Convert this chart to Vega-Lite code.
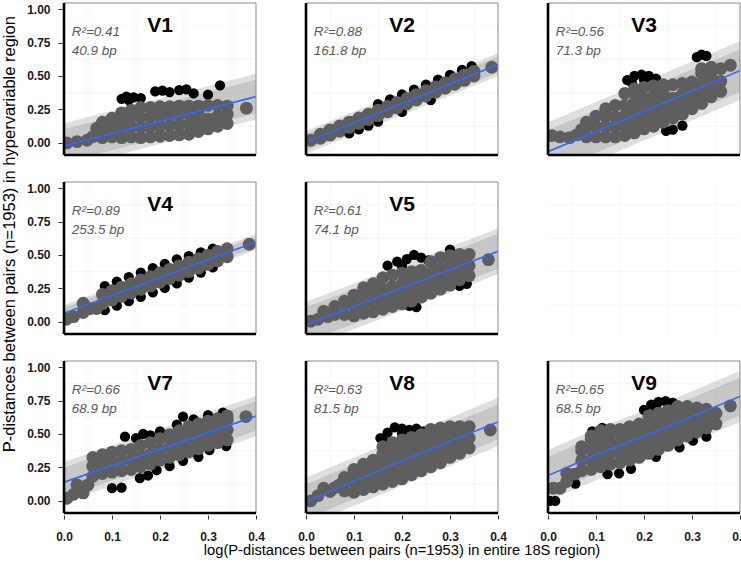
{
  "$schema": "https://vega.github.io/schema/vega-lite/v6.json",
  "background": "white",
  "padding": {"left": 2, "top": 0, "right": 0, "bottom": 0},
  "title": {
    "text": "P-distances between pairs (n=1953) in hypervariable region",
    "orient": "left",
    "anchor": "middle",
    "font": "Liberation Sans",
    "fontSize": 16.5,
    "fontWeight": "normal",
    "color": "#000",
    "offset": 8,
    "dx": 45
  },
  "data": {
    "values": [
      {"p":"V1","k":"t","r2":"R²=0.41","bp":"40.9 bp"},
      {"p":"V2","k":"t","r2":"R²=0.88","bp":"161.8 bp"},
      {"p":"V3","k":"t","r2":"R²=0.56","bp":"71.3 bp"},
      {"p":"V4","k":"t","r2":"R²=0.89","bp":"253.5 bp"},
      {"p":"V5","k":"t","r2":"R²=0.61","bp":"74.1 bp"},
      {"p":"V6","k":"n"},
      {"p":"V7","k":"t","r2":"R²=0.66","bp":"68.9 bp"},
      {"p":"V8","k":"t","r2":"R²=0.63","bp":"81.5 bp"},
      {"p":"V9","k":"t","r2":"R²=0.65","bp":"68.5 bp"},

      {"p":"V1","k":"b","w":"o","x":0,"lo":-0.192,"hi":0.148},{"p":"V1","k":"b","w":"o","x":0.4,"lo":0.176,"hi":0.516},
      {"p":"V1","k":"b","w":"i","x":0,"lo":-0.147,"hi":0.103},{"p":"V1","k":"b","w":"i","x":0.4,"lo":0.221,"hi":0.471},
      {"p":"V2","k":"b","w":"o","x":0,"lo":-0.08,"hi":0.09},{"p":"V2","k":"b","w":"o","x":0.4,"lo":0.5,"hi":0.67},
      {"p":"V2","k":"b","w":"i","x":0,"lo":-0.055,"hi":0.065},{"p":"V2","k":"b","w":"i","x":0.4,"lo":0.525,"hi":0.645},
      {"p":"V3","k":"b","w":"o","x":0,"lo":-0.285,"hi":0.155},{"p":"V3","k":"b","w":"o","x":0.4,"lo":0.32,"hi":0.76},
      {"p":"V3","k":"b","w":"i","x":0,"lo":-0.225,"hi":0.095},{"p":"V3","k":"b","w":"i","x":0.4,"lo":0.38,"hi":0.7},
      {"p":"V4","k":"b","w":"o","x":0,"lo":0.005,"hi":0.125},{"p":"V4","k":"b","w":"o","x":0.4,"lo":0.537,"hi":0.657},
      {"p":"V4","k":"b","w":"i","x":0,"lo":0.025,"hi":0.105},{"p":"V4","k":"b","w":"i","x":0.4,"lo":0.557,"hi":0.637},
      {"p":"V5","k":"b","w":"o","x":0,"lo":-0.19,"hi":0.15},{"p":"V5","k":"b","w":"o","x":0.4,"lo":0.357,"hi":0.697},
      {"p":"V5","k":"b","w":"i","x":0,"lo":-0.15,"hi":0.11},{"p":"V5","k":"b","w":"i","x":0.4,"lo":0.397,"hi":0.657},
      {"p":"V7","k":"b","w":"o","x":0,"lo":-0.01,"hi":0.29},{"p":"V7","k":"b","w":"o","x":0.4,"lo":0.484,"hi":0.784},
      {"p":"V7","k":"b","w":"i","x":0,"lo":0.03,"hi":0.25},{"p":"V7","k":"b","w":"i","x":0.4,"lo":0.524,"hi":0.744},
      {"p":"V8","k":"b","w":"o","x":0,"lo":-0.185,"hi":0.175},{"p":"V8","k":"b","w":"o","x":0.4,"lo":0.41,"hi":0.77},
      {"p":"V8","k":"b","w":"i","x":0,"lo":-0.135,"hi":0.125},{"p":"V8","k":"b","w":"i","x":0.4,"lo":0.46,"hi":0.72},
      {"p":"V9","k":"b","w":"o","x":0,"lo":0.0,"hi":0.38},{"p":"V9","k":"b","w":"o","x":0.1,"lo":0.155,"hi":0.535},
      {"p":"V9","k":"b","w":"o","x":0.2,"lo":0.295,"hi":0.675},{"p":"V9","k":"b","w":"o","x":0.3,"lo":0.44,"hi":0.82},
      {"p":"V9","k":"b","w":"o","x":0.4,"lo":0.59,"hi":0.97},
      {"p":"V9","k":"b","w":"i","x":0,"lo":0.05,"hi":0.33},{"p":"V9","k":"b","w":"i","x":0.1,"lo":0.205,"hi":0.485},
      {"p":"V9","k":"b","w":"i","x":0.2,"lo":0.345,"hi":0.625},{"p":"V9","k":"b","w":"i","x":0.3,"lo":0.49,"hi":0.77},
      {"p":"V9","k":"b","w":"i","x":0.4,"lo":0.64,"hi":0.92},

      {"p":"V1","k":"l","x":0,"y":-0.022},{"p":"V1","k":"l","x":0.4,"y":0.346},
      {"p":"V2","k":"l","x":0,"y":0.005},{"p":"V2","k":"l","x":0.4,"y":0.585},
      {"p":"V3","k":"l","x":0,"y":-0.065},{"p":"V3","k":"l","x":0.4,"y":0.54},
      {"p":"V4","k":"l","x":0,"y":0.065},{"p":"V4","k":"l","x":0.4,"y":0.597},
      {"p":"V5","k":"l","x":0,"y":-0.02},{"p":"V5","k":"l","x":0.4,"y":0.527},
      {"p":"V7","k":"l","x":0,"y":0.14},{"p":"V7","k":"l","x":0.4,"y":0.634},
      {"p":"V8","k":"l","x":0,"y":-0.005},{"p":"V8","k":"l","x":0.2,"y":0.3},{"p":"V8","k":"l","x":0.4,"y":0.59},
      {"p":"V9","k":"l","x":0,"y":0.19},{"p":"V9","k":"l","x":0.1,"y":0.345},{"p":"V9","k":"l","x":0.2,"y":0.485},
      {"p":"V9","k":"l","x":0.3,"y":0.63},{"p":"V9","k":"l","x":0.4,"y":0.78},

      {"p":"V1","k":"e","x":0.12,"y":0.33},{"p":"V1","k":"e","x":0.13,"y":0.345},{"p":"V1","k":"e","x":0.145,"y":0.34},
      {"p":"V1","k":"e","x":0.16,"y":0.335},{"p":"V1","k":"e","x":0.135,"y":0.32},{"p":"V1","k":"e","x":0.19,"y":0.385},
      {"p":"V1","k":"e","x":0.205,"y":0.39},{"p":"V1","k":"e","x":0.22,"y":0.38},{"p":"V1","k":"e","x":0.24,"y":0.395},
      {"p":"V1","k":"e","x":0.255,"y":0.4},{"p":"V1","k":"e","x":0.27,"y":0.37},{"p":"V1","k":"e","x":0.3,"y":0.36},
      {"p":"V1","k":"e","x":0.325,"y":0.43},

      {"p":"V2","k":"e","x":0.15,"y":0.289},{"p":"V2","k":"e","x":0.175,"y":0.326},{"p":"V2","k":"e","x":0.2,"y":0.362},
      {"p":"V2","k":"e","x":0.225,"y":0.399},{"p":"V2","k":"e","x":0.25,"y":0.435},{"p":"V2","k":"e","x":0.275,"y":0.472},
      {"p":"V2","k":"e","x":0.3,"y":0.508},{"p":"V2","k":"e","x":0.325,"y":0.545},{"p":"V2","k":"e","x":0.345,"y":0.574},
      {"p":"V2","k":"e","x":0.09,"y":0.071},{"p":"V2","k":"e","x":0.11,"y":0.101},{"p":"V2","k":"e","x":0.13,"y":0.13},
      {"p":"V2","k":"e","x":0.15,"y":0.159},{"p":"V2","k":"e","x":0.2,"y":0.232},{"p":"V2","k":"e","x":0.26,"y":0.32},

      {"p":"V3","k":"e","x":0.165,"y":0.47},{"p":"V3","k":"e","x":0.18,"y":0.5},{"p":"V3","k":"e","x":0.195,"y":0.51},
      {"p":"V3","k":"e","x":0.21,"y":0.5},{"p":"V3","k":"e","x":0.225,"y":0.48},{"p":"V3","k":"e","x":0.175,"y":0.45},
      {"p":"V3","k":"e","x":0.2,"y":0.47},{"p":"V3","k":"e","x":0.31,"y":0.64},{"p":"V3","k":"e","x":0.32,"y":0.66},
      {"p":"V3","k":"e","x":0.33,"y":0.65},{"p":"V3","k":"e","x":0.246,"y":0.09},{"p":"V3","k":"e","x":0.26,"y":0.1},
      {"p":"V3","k":"e","x":0.28,"y":0.13},

      {"p":"V4","k":"e","x":0.085,"y":0.268},{"p":"V4","k":"e","x":0.11,"y":0.301},{"p":"V4","k":"e","x":0.135,"y":0.335},
      {"p":"V4","k":"e","x":0.16,"y":0.368},{"p":"V4","k":"e","x":0.185,"y":0.401},{"p":"V4","k":"e","x":0.21,"y":0.434},
      {"p":"V4","k":"e","x":0.235,"y":0.468},{"p":"V4","k":"e","x":0.26,"y":0.491},{"p":"V4","k":"e","x":0.285,"y":0.519},
      {"p":"V4","k":"e","x":0.31,"y":0.547},
      {"p":"V4","k":"e","x":0.085,"y":0.088},{"p":"V4","k":"e","x":0.11,"y":0.121},{"p":"V4","k":"e","x":0.135,"y":0.155},
      {"p":"V4","k":"e","x":0.16,"y":0.188},{"p":"V4","k":"e","x":0.185,"y":0.221},{"p":"V4","k":"e","x":0.21,"y":0.254},
      {"p":"V4","k":"e","x":0.235,"y":0.288},{"p":"V4","k":"e","x":0.26,"y":0.331},{"p":"V4","k":"e","x":0.285,"y":0.369},
      {"p":"V4","k":"e","x":0.31,"y":0.407},

      {"p":"V5","k":"e","x":0.17,"y":0.42},{"p":"V5","k":"e","x":0.19,"y":0.45},{"p":"V5","k":"e","x":0.21,"y":0.47},
      {"p":"V5","k":"e","x":0.225,"y":0.5},{"p":"V5","k":"e","x":0.24,"y":0.48},{"p":"V5","k":"e","x":0.255,"y":0.46},
      {"p":"V5","k":"e","x":0.2,"y":0.42},{"p":"V5","k":"e","x":0.3,"y":0.54},{"p":"V5","k":"e","x":0.215,"y":0.12},
      {"p":"V5","k":"e","x":0.23,"y":0.11},{"p":"V5","k":"e","x":0.32,"y":0.27},{"p":"V5","k":"e","x":0.335,"y":0.285},

      {"p":"V7","k":"e","x":0.127,"y":0.48},{"p":"V7","k":"e","x":0.15,"y":0.47},{"p":"V7","k":"e","x":0.165,"y":0.5},
      {"p":"V7","k":"e","x":0.18,"y":0.49},{"p":"V7","k":"e","x":0.2,"y":0.52},{"p":"V7","k":"e","x":0.235,"y":0.57},
      {"p":"V7","k":"e","x":0.248,"y":0.63},{"p":"V7","k":"e","x":0.27,"y":0.61},{"p":"V7","k":"e","x":0.3,"y":0.64},
      {"p":"V7","k":"e","x":0.331,"y":0.66},{"p":"V7","k":"e","x":0.1,"y":0.095},{"p":"V7","k":"e","x":0.12,"y":0.1},
      {"p":"V7","k":"e","x":0.158,"y":0.17},{"p":"V7","k":"e","x":0.175,"y":0.19},{"p":"V7","k":"e","x":0.193,"y":0.23},
      {"p":"V7","k":"e","x":0.22,"y":0.26},{"p":"V7","k":"e","x":0.248,"y":0.3},{"p":"V7","k":"e","x":0.28,"y":0.33},
      {"p":"V7","k":"e","x":0.303,"y":0.38},{"p":"V7","k":"e","x":0.338,"y":0.41},

      {"p":"V8","k":"e","x":0.155,"y":0.47},{"p":"V8","k":"e","x":0.17,"y":0.51},{"p":"V8","k":"e","x":0.185,"y":0.55},
      {"p":"V8","k":"e","x":0.2,"y":0.54},{"p":"V8","k":"e","x":0.215,"y":0.53},{"p":"V8","k":"e","x":0.23,"y":0.54},
      {"p":"V8","k":"e","x":0.245,"y":0.52},{"p":"V8","k":"e","x":0.165,"y":0.44},{"p":"V8","k":"e","x":0.2,"y":0.5},

      {"p":"V9","k":"e","x":0.004,"y":0.0},{"p":"V9","k":"e","x":0.015,"y":0.0},{"p":"V9","k":"e","x":0.057,"y":0.13},
      {"p":"V9","k":"e","x":0.092,"y":0.52},{"p":"V9","k":"e","x":0.113,"y":0.545},{"p":"V9","k":"e","x":0.2,"y":0.68},
      {"p":"V9","k":"e","x":0.215,"y":0.72},{"p":"V9","k":"e","x":0.23,"y":0.74},{"p":"V9","k":"e","x":0.245,"y":0.745},
      {"p":"V9","k":"e","x":0.26,"y":0.735},{"p":"V9","k":"e","x":0.225,"y":0.7},{"p":"V9","k":"e","x":0.124,"y":0.2},
      {"p":"V9","k":"e","x":0.148,"y":0.206},{"p":"V9","k":"e","x":0.173,"y":0.24},{"p":"V9","k":"e","x":0.225,"y":0.33},
      {"p":"V9","k":"e","x":0.274,"y":0.4},{"p":"V9","k":"e","x":0.302,"y":0.45},{"p":"V9","k":"e","x":0.33,"y":0.48},

      {"p":"V1","k":"g","x":0.006,"y":0.0},{"p":"V1","k":"g","x":0.027,"y":0.01},{"p":"V1","k":"g","x":0.048,"y":0.02},
      {"p":"V1","k":"g","x":0.06,"y":0.047},{"p":"V1","k":"g","x":0.068,"y":0.11},
      {"p":"V1","k":"g","x":0.08,"y":0.04},{"p":"V1","k":"g","x":0.08,"y":0.1},{"p":"V1","k":"g","x":0.08,"y":0.155},
      {"p":"V1","k":"g","x":0.1,"y":0.045},{"p":"V1","k":"g","x":0.1,"y":0.115},{"p":"V1","k":"g","x":0.1,"y":0.185},
      {"p":"V1","k":"g","x":0.12,"y":0.04},{"p":"V1","k":"g","x":0.12,"y":0.11},{"p":"V1","k":"g","x":0.12,"y":0.18},{"p":"V1","k":"g","x":0.12,"y":0.225},
      {"p":"V1","k":"g","x":0.14,"y":0.045},{"p":"V1","k":"g","x":0.14,"y":0.12},{"p":"V1","k":"g","x":0.14,"y":0.195},{"p":"V1","k":"g","x":0.14,"y":0.245},
      {"p":"V1","k":"g","x":0.16,"y":0.04},{"p":"V1","k":"g","x":0.16,"y":0.115},{"p":"V1","k":"g","x":0.16,"y":0.19},{"p":"V1","k":"g","x":0.16,"y":0.265},
      {"p":"V1","k":"g","x":0.18,"y":0.045},{"p":"V1","k":"g","x":0.18,"y":0.12},{"p":"V1","k":"g","x":0.18,"y":0.195},{"p":"V1","k":"g","x":0.18,"y":0.265},
      {"p":"V1","k":"g","x":0.2,"y":0.05},{"p":"V1","k":"g","x":0.2,"y":0.125},{"p":"V1","k":"g","x":0.2,"y":0.2},{"p":"V1","k":"g","x":0.2,"y":0.27},
      {"p":"V1","k":"g","x":0.22,"y":0.055},{"p":"V1","k":"g","x":0.22,"y":0.13},{"p":"V1","k":"g","x":0.22,"y":0.205},{"p":"V1","k":"g","x":0.22,"y":0.27},
      {"p":"V1","k":"g","x":0.24,"y":0.06},{"p":"V1","k":"g","x":0.24,"y":0.135},{"p":"V1","k":"g","x":0.24,"y":0.21},{"p":"V1","k":"g","x":0.24,"y":0.275},
      {"p":"V1","k":"g","x":0.26,"y":0.065},{"p":"V1","k":"g","x":0.26,"y":0.14},{"p":"V1","k":"g","x":0.26,"y":0.215},{"p":"V1","k":"g","x":0.26,"y":0.275},
      {"p":"V1","k":"g","x":0.28,"y":0.085},{"p":"V1","k":"g","x":0.28,"y":0.16},{"p":"V1","k":"g","x":0.28,"y":0.235},{"p":"V1","k":"g","x":0.28,"y":0.275},
      {"p":"V1","k":"g","x":0.3,"y":0.105},{"p":"V1","k":"g","x":0.3,"y":0.18},{"p":"V1","k":"g","x":0.3,"y":0.28},
      {"p":"V1","k":"g","x":0.32,"y":0.125},{"p":"V1","k":"g","x":0.32,"y":0.2},{"p":"V1","k":"g","x":0.32,"y":0.28},
      {"p":"V1","k":"g","x":0.34,"y":0.145},{"p":"V1","k":"g","x":0.34,"y":0.215},{"p":"V1","k":"g","x":0.34,"y":0.275},
      {"p":"V1","k":"g","x":0.38,"y":0.26},

      {"p":"V2","k":"g","x":0.01,"y":0.02},{"p":"V2","k":"g","x":0.03,"y":0.035},{"p":"V2","k":"g","x":0.03,"y":0.065},
      {"p":"V2","k":"g","x":0.05,"y":0.058},{"p":"V2","k":"g","x":0.05,"y":0.098},{"p":"V2","k":"g","x":0.07,"y":0.087},{"p":"V2","k":"g","x":0.07,"y":0.127},
      {"p":"V2","k":"g","x":0.09,"y":0.116},{"p":"V2","k":"g","x":0.09,"y":0.156},{"p":"V2","k":"g","x":0.11,"y":0.146},{"p":"V2","k":"g","x":0.11,"y":0.186},
      {"p":"V2","k":"g","x":0.13,"y":0.175},{"p":"V2","k":"g","x":0.13,"y":0.215},{"p":"V2","k":"g","x":0.15,"y":0.204},{"p":"V2","k":"g","x":0.15,"y":0.244},
      {"p":"V2","k":"g","x":0.17,"y":0.233},{"p":"V2","k":"g","x":0.17,"y":0.273},{"p":"V2","k":"g","x":0.19,"y":0.262},{"p":"V2","k":"g","x":0.19,"y":0.302},
      {"p":"V2","k":"g","x":0.21,"y":0.292},{"p":"V2","k":"g","x":0.21,"y":0.332},{"p":"V2","k":"g","x":0.23,"y":0.321},{"p":"V2","k":"g","x":0.23,"y":0.361},
      {"p":"V2","k":"g","x":0.25,"y":0.35},{"p":"V2","k":"g","x":0.25,"y":0.39},{"p":"V2","k":"g","x":0.27,"y":0.379},{"p":"V2","k":"g","x":0.27,"y":0.419},
      {"p":"V2","k":"g","x":0.29,"y":0.408},{"p":"V2","k":"g","x":0.29,"y":0.448},{"p":"V2","k":"g","x":0.31,"y":0.438},{"p":"V2","k":"g","x":0.31,"y":0.478},
      {"p":"V2","k":"g","x":0.33,"y":0.467},{"p":"V2","k":"g","x":0.33,"y":0.507},{"p":"V2","k":"g","x":0.35,"y":0.5},{"p":"V2","k":"g","x":0.35,"y":0.535},
      {"p":"V2","k":"g","x":0.387,"y":0.565},

      {"p":"V3","k":"g","x":0.008,"y":0.055},{"p":"V3","k":"g","x":0.025,"y":0.045},{"p":"V3","k":"g","x":0.045,"y":0.04},
      {"p":"V3","k":"g","x":0.06,"y":0.06},{"p":"V3","k":"g","x":0.07,"y":0.1},
      {"p":"V3","k":"g","x":0.08,"y":0.045},{"p":"V3","k":"g","x":0.08,"y":0.12},{"p":"V3","k":"g","x":0.08,"y":0.155},
      {"p":"V3","k":"g","x":0.1,"y":0.045},{"p":"V3","k":"g","x":0.1,"y":0.12},{"p":"V3","k":"g","x":0.1,"y":0.2},
      {"p":"V3","k":"g","x":0.12,"y":0.045},{"p":"V3","k":"g","x":0.12,"y":0.12},{"p":"V3","k":"g","x":0.12,"y":0.195},{"p":"V3","k":"g","x":0.12,"y":0.255},
      {"p":"V3","k":"g","x":0.14,"y":0.045},{"p":"V3","k":"g","x":0.14,"y":0.12},{"p":"V3","k":"g","x":0.14,"y":0.195},{"p":"V3","k":"g","x":0.14,"y":0.28},
      {"p":"V3","k":"g","x":0.16,"y":0.055},{"p":"V3","k":"g","x":0.16,"y":0.13},{"p":"V3","k":"g","x":0.16,"y":0.205},{"p":"V3","k":"g","x":0.16,"y":0.28},{"p":"V3","k":"g","x":0.16,"y":0.37},
      {"p":"V3","k":"g","x":0.18,"y":0.075},{"p":"V3","k":"g","x":0.18,"y":0.15},{"p":"V3","k":"g","x":0.18,"y":0.225},{"p":"V3","k":"g","x":0.18,"y":0.3},{"p":"V3","k":"g","x":0.18,"y":0.375},{"p":"V3","k":"g","x":0.18,"y":0.405},
      {"p":"V3","k":"g","x":0.2,"y":0.105},{"p":"V3","k":"g","x":0.2,"y":0.18},{"p":"V3","k":"g","x":0.2,"y":0.255},{"p":"V3","k":"g","x":0.2,"y":0.33},{"p":"V3","k":"g","x":0.2,"y":0.415},
      {"p":"V3","k":"g","x":0.22,"y":0.125},{"p":"V3","k":"g","x":0.22,"y":0.2},{"p":"V3","k":"g","x":0.22,"y":0.275},{"p":"V3","k":"g","x":0.22,"y":0.35},{"p":"V3","k":"g","x":0.22,"y":0.425},
      {"p":"V3","k":"g","x":0.24,"y":0.155},{"p":"V3","k":"g","x":0.24,"y":0.23},{"p":"V3","k":"g","x":0.24,"y":0.305},{"p":"V3","k":"g","x":0.24,"y":0.38},{"p":"V3","k":"g","x":0.24,"y":0.435},
      {"p":"V3","k":"g","x":0.26,"y":0.185},{"p":"V3","k":"g","x":0.26,"y":0.26},{"p":"V3","k":"g","x":0.26,"y":0.335},{"p":"V3","k":"g","x":0.26,"y":0.435},
      {"p":"V3","k":"g","x":0.28,"y":0.215},{"p":"V3","k":"g","x":0.28,"y":0.29},{"p":"V3","k":"g","x":0.28,"y":0.365},{"p":"V3","k":"g","x":0.28,"y":0.445},
      {"p":"V3","k":"g","x":0.3,"y":0.255},{"p":"V3","k":"g","x":0.3,"y":0.33},{"p":"V3","k":"g","x":0.3,"y":0.405},{"p":"V3","k":"g","x":0.3,"y":0.455},
      {"p":"V3","k":"g","x":0.32,"y":0.295},{"p":"V3","k":"g","x":0.32,"y":0.37},{"p":"V3","k":"g","x":0.32,"y":0.445},{"p":"V3","k":"g","x":0.32,"y":0.52},{"p":"V3","k":"g","x":0.32,"y":0.555},
      {"p":"V3","k":"g","x":0.34,"y":0.345},{"p":"V3","k":"g","x":0.34,"y":0.42},{"p":"V3","k":"g","x":0.34,"y":0.495},{"p":"V3","k":"g","x":0.34,"y":0.565},
      {"p":"V3","k":"g","x":0.36,"y":0.385},{"p":"V3","k":"g","x":0.36,"y":0.46},{"p":"V3","k":"g","x":0.36,"y":0.555},
      {"p":"V3","k":"g","x":0.38,"y":0.58},

      {"p":"V4","k":"g","x":0.005,"y":0.02},{"p":"V4","k":"g","x":0.02,"y":0.04},{"p":"V4","k":"g","x":0.04,"y":0.07},
      {"p":"V4","k":"g","x":0.04,"y":0.14},{"p":"V4","k":"g","x":0.055,"y":0.1},{"p":"V4","k":"g","x":0.068,"y":0.1},
      {"p":"V4","k":"g","x":0.08,"y":0.136},{"p":"V4","k":"g","x":0.08,"y":0.206},{"p":"V4","k":"g","x":0.1,"y":0.163},{"p":"V4","k":"g","x":0.1,"y":0.233},
      {"p":"V4","k":"g","x":0.12,"y":0.19},{"p":"V4","k":"g","x":0.12,"y":0.26},{"p":"V4","k":"g","x":0.14,"y":0.216},{"p":"V4","k":"g","x":0.14,"y":0.286},
      {"p":"V4","k":"g","x":0.16,"y":0.243},{"p":"V4","k":"g","x":0.16,"y":0.313},{"p":"V4","k":"g","x":0.18,"y":0.269},{"p":"V4","k":"g","x":0.18,"y":0.339},
      {"p":"V4","k":"g","x":0.2,"y":0.296},{"p":"V4","k":"g","x":0.2,"y":0.366},{"p":"V4","k":"g","x":0.22,"y":0.323},{"p":"V4","k":"g","x":0.22,"y":0.393},
      {"p":"V4","k":"g","x":0.24,"y":0.349},{"p":"V4","k":"g","x":0.24,"y":0.419},{"p":"V4","k":"g","x":0.26,"y":0.376},{"p":"V4","k":"g","x":0.26,"y":0.446},
      {"p":"V4","k":"g","x":0.28,"y":0.402},{"p":"V4","k":"g","x":0.28,"y":0.472},{"p":"V4","k":"g","x":0.3,"y":0.429},{"p":"V4","k":"g","x":0.3,"y":0.499},
      {"p":"V4","k":"g","x":0.32,"y":0.456},{"p":"V4","k":"g","x":0.32,"y":0.526},{"p":"V4","k":"g","x":0.34,"y":0.487},{"p":"V4","k":"g","x":0.34,"y":0.547},
      {"p":"V4","k":"g","x":0.386,"y":0.58},

      {"p":"V5","k":"g","x":0.01,"y":0.005},{"p":"V5","k":"g","x":0.025,"y":0.02},{"p":"V5","k":"g","x":0.037,"y":0.08},{"p":"V5","k":"g","x":0.045,"y":0.04},
      {"p":"V5","k":"g","x":0.06,"y":0.055},{"p":"V5","k":"g","x":0.06,"y":0.115},
      {"p":"V5","k":"g","x":0.08,"y":0.055},{"p":"V5","k":"g","x":0.08,"y":0.13},{"p":"V5","k":"g","x":0.08,"y":0.155},
      {"p":"V5","k":"g","x":0.1,"y":0.045},{"p":"V5","k":"g","x":0.1,"y":0.12},{"p":"V5","k":"g","x":0.1,"y":0.2},
      {"p":"V5","k":"g","x":0.12,"y":0.065},{"p":"V5","k":"g","x":0.12,"y":0.14},{"p":"V5","k":"g","x":0.12,"y":0.215},{"p":"V5","k":"g","x":0.12,"y":0.255},
      {"p":"V5","k":"g","x":0.14,"y":0.075},{"p":"V5","k":"g","x":0.14,"y":0.15},{"p":"V5","k":"g","x":0.14,"y":0.225},{"p":"V5","k":"g","x":0.14,"y":0.285},
      {"p":"V5","k":"g","x":0.16,"y":0.095},{"p":"V5","k":"g","x":0.16,"y":0.17},{"p":"V5","k":"g","x":0.16,"y":0.245},{"p":"V5","k":"g","x":0.16,"y":0.33},
      {"p":"V5","k":"g","x":0.18,"y":0.115},{"p":"V5","k":"g","x":0.18,"y":0.19},{"p":"V5","k":"g","x":0.18,"y":0.265},{"p":"V5","k":"g","x":0.18,"y":0.35},
      {"p":"V5","k":"g","x":0.2,"y":0.135},{"p":"V5","k":"g","x":0.2,"y":0.21},{"p":"V5","k":"g","x":0.2,"y":0.285},{"p":"V5","k":"g","x":0.2,"y":0.365},
      {"p":"V5","k":"g","x":0.22,"y":0.155},{"p":"V5","k":"g","x":0.22,"y":0.23},{"p":"V5","k":"g","x":0.22,"y":0.305},{"p":"V5","k":"g","x":0.22,"y":0.375},
      {"p":"V5","k":"g","x":0.24,"y":0.185},{"p":"V5","k":"g","x":0.24,"y":0.26},{"p":"V5","k":"g","x":0.24,"y":0.335},{"p":"V5","k":"g","x":0.24,"y":0.385},
      {"p":"V5","k":"g","x":0.26,"y":0.215},{"p":"V5","k":"g","x":0.26,"y":0.29},{"p":"V5","k":"g","x":0.26,"y":0.365},{"p":"V5","k":"g","x":0.26,"y":0.45},
      {"p":"V5","k":"g","x":0.28,"y":0.245},{"p":"V5","k":"g","x":0.28,"y":0.32},{"p":"V5","k":"g","x":0.28,"y":0.395},{"p":"V5","k":"g","x":0.28,"y":0.48},
      {"p":"V5","k":"g","x":0.3,"y":0.275},{"p":"V5","k":"g","x":0.3,"y":0.35},{"p":"V5","k":"g","x":0.3,"y":0.425},{"p":"V5","k":"g","x":0.3,"y":0.495},
      {"p":"V5","k":"g","x":0.32,"y":0.315},{"p":"V5","k":"g","x":0.32,"y":0.39},{"p":"V5","k":"g","x":0.32,"y":0.465},{"p":"V5","k":"g","x":0.32,"y":0.505},
      {"p":"V5","k":"g","x":0.34,"y":0.345},{"p":"V5","k":"g","x":0.34,"y":0.42},{"p":"V5","k":"g","x":0.34,"y":0.505},
      {"p":"V5","k":"g","x":0.38,"y":0.465},

      {"p":"V7","k":"g","x":0.006,"y":0.02},{"p":"V7","k":"g","x":0.02,"y":0.05},{"p":"V7","k":"g","x":0.027,"y":0.12},
      {"p":"V7","k":"g","x":0.04,"y":0.06},{"p":"V7","k":"g","x":0.05,"y":0.12},
      {"p":"V7","k":"g","x":0.06,"y":0.185},{"p":"V7","k":"g","x":0.06,"y":0.26},{"p":"V7","k":"g","x":0.06,"y":0.325},
      {"p":"V7","k":"g","x":0.08,"y":0.205},{"p":"V7","k":"g","x":0.08,"y":0.28},{"p":"V7","k":"g","x":0.08,"y":0.345},
      {"p":"V7","k":"g","x":0.1,"y":0.215},{"p":"V7","k":"g","x":0.1,"y":0.29},{"p":"V7","k":"g","x":0.1,"y":0.365},
      {"p":"V7","k":"g","x":0.12,"y":0.225},{"p":"V7","k":"g","x":0.12,"y":0.3},{"p":"V7","k":"g","x":0.12,"y":0.375},
      {"p":"V7","k":"g","x":0.14,"y":0.235},{"p":"V7","k":"g","x":0.14,"y":0.31},{"p":"V7","k":"g","x":0.14,"y":0.385},
      {"p":"V7","k":"g","x":0.16,"y":0.255},{"p":"V7","k":"g","x":0.16,"y":0.33},{"p":"V7","k":"g","x":0.16,"y":0.415},
      {"p":"V7","k":"g","x":0.18,"y":0.275},{"p":"V7","k":"g","x":0.18,"y":0.35},{"p":"V7","k":"g","x":0.18,"y":0.435},
      {"p":"V7","k":"g","x":0.2,"y":0.305},{"p":"V7","k":"g","x":0.2,"y":0.38},{"p":"V7","k":"g","x":0.2,"y":0.465},
      {"p":"V7","k":"g","x":0.22,"y":0.325},{"p":"V7","k":"g","x":0.22,"y":0.4},{"p":"V7","k":"g","x":0.22,"y":0.475},{"p":"V7","k":"g","x":0.22,"y":0.495},
      {"p":"V7","k":"g","x":0.24,"y":0.345},{"p":"V7","k":"g","x":0.24,"y":0.42},{"p":"V7","k":"g","x":0.24,"y":0.495},{"p":"V7","k":"g","x":0.24,"y":0.525},
      {"p":"V7","k":"g","x":0.26,"y":0.365},{"p":"V7","k":"g","x":0.26,"y":0.44},{"p":"V7","k":"g","x":0.26,"y":0.515},{"p":"V7","k":"g","x":0.26,"y":0.555},
      {"p":"V7","k":"g","x":0.28,"y":0.39},{"p":"V7","k":"g","x":0.28,"y":0.465},{"p":"V7","k":"g","x":0.28,"y":0.54},{"p":"V7","k":"g","x":0.28,"y":0.575},
      {"p":"V7","k":"g","x":0.3,"y":0.415},{"p":"V7","k":"g","x":0.3,"y":0.49},{"p":"V7","k":"g","x":0.3,"y":0.565},{"p":"V7","k":"g","x":0.3,"y":0.595},
      {"p":"V7","k":"g","x":0.32,"y":0.435},{"p":"V7","k":"g","x":0.32,"y":0.51},{"p":"V7","k":"g","x":0.32,"y":0.585},{"p":"V7","k":"g","x":0.32,"y":0.615},
      {"p":"V7","k":"g","x":0.34,"y":0.455},{"p":"V7","k":"g","x":0.34,"y":0.53},{"p":"V7","k":"g","x":0.34,"y":0.605},{"p":"V7","k":"g","x":0.34,"y":0.635},
      {"p":"V7","k":"g","x":0.379,"y":0.63},

      {"p":"V8","k":"g","x":0.01,"y":0.0},{"p":"V8","k":"g","x":0.025,"y":0.04},{"p":"V8","k":"g","x":0.037,"y":0.095},
      {"p":"V8","k":"g","x":0.05,"y":0.07},{"p":"V8","k":"g","x":0.06,"y":0.1},{"p":"V8","k":"g","x":0.07,"y":0.12},
      {"p":"V8","k":"g","x":0.08,"y":0.075},{"p":"V8","k":"g","x":0.08,"y":0.15},{"p":"V8","k":"g","x":0.08,"y":0.175},
      {"p":"V8","k":"g","x":0.1,"y":0.065},{"p":"V8","k":"g","x":0.1,"y":0.14},{"p":"V8","k":"g","x":0.1,"y":0.215},{"p":"V8","k":"g","x":0.1,"y":0.235},
      {"p":"V8","k":"g","x":0.12,"y":0.085},{"p":"V8","k":"g","x":0.12,"y":0.16},{"p":"V8","k":"g","x":0.12,"y":0.235},{"p":"V8","k":"g","x":0.12,"y":0.275},
      {"p":"V8","k":"g","x":0.14,"y":0.105},{"p":"V8","k":"g","x":0.14,"y":0.18},{"p":"V8","k":"g","x":0.14,"y":0.255},{"p":"V8","k":"g","x":0.14,"y":0.305},
      {"p":"V8","k":"g","x":0.16,"y":0.125},{"p":"V8","k":"g","x":0.16,"y":0.2},{"p":"V8","k":"g","x":0.16,"y":0.275},{"p":"V8","k":"g","x":0.16,"y":0.35},{"p":"V8","k":"g","x":0.16,"y":0.405},
      {"p":"V8","k":"g","x":0.18,"y":0.145},{"p":"V8","k":"g","x":0.18,"y":0.22},{"p":"V8","k":"g","x":0.18,"y":0.295},{"p":"V8","k":"g","x":0.18,"y":0.37},{"p":"V8","k":"g","x":0.18,"y":0.435},
      {"p":"V8","k":"g","x":0.2,"y":0.165},{"p":"V8","k":"g","x":0.2,"y":0.24},{"p":"V8","k":"g","x":0.2,"y":0.315},{"p":"V8","k":"g","x":0.2,"y":0.39},{"p":"V8","k":"g","x":0.2,"y":0.455},
      {"p":"V8","k":"g","x":0.22,"y":0.195},{"p":"V8","k":"g","x":0.22,"y":0.27},{"p":"V8","k":"g","x":0.22,"y":0.345},{"p":"V8","k":"g","x":0.22,"y":0.42},{"p":"V8","k":"g","x":0.22,"y":0.475},
      {"p":"V8","k":"g","x":0.24,"y":0.225},{"p":"V8","k":"g","x":0.24,"y":0.3},{"p":"V8","k":"g","x":0.24,"y":0.375},{"p":"V8","k":"g","x":0.24,"y":0.45},{"p":"V8","k":"g","x":0.24,"y":0.495},
      {"p":"V8","k":"g","x":0.26,"y":0.255},{"p":"V8","k":"g","x":0.26,"y":0.33},{"p":"V8","k":"g","x":0.26,"y":0.405},{"p":"V8","k":"g","x":0.26,"y":0.48},{"p":"V8","k":"g","x":0.26,"y":0.535},
      {"p":"V8","k":"g","x":0.28,"y":0.285},{"p":"V8","k":"g","x":0.28,"y":0.36},{"p":"V8","k":"g","x":0.28,"y":0.435},{"p":"V8","k":"g","x":0.28,"y":0.51},{"p":"V8","k":"g","x":0.28,"y":0.545},
      {"p":"V8","k":"g","x":0.3,"y":0.325},{"p":"V8","k":"g","x":0.3,"y":0.4},{"p":"V8","k":"g","x":0.3,"y":0.475},{"p":"V8","k":"g","x":0.3,"y":0.555},
      {"p":"V8","k":"g","x":0.32,"y":0.355},{"p":"V8","k":"g","x":0.32,"y":0.43},{"p":"V8","k":"g","x":0.32,"y":0.505},{"p":"V8","k":"g","x":0.32,"y":0.555},
      {"p":"V8","k":"g","x":0.34,"y":0.395},{"p":"V8","k":"g","x":0.34,"y":0.47},{"p":"V8","k":"g","x":0.34,"y":0.555},
      {"p":"V8","k":"g","x":0.384,"y":0.53},

      {"p":"V9","k":"g","x":0.011,"y":0.095},{"p":"V9","k":"g","x":0.025,"y":0.095},{"p":"V9","k":"g","x":0.039,"y":0.206},
      {"p":"V9","k":"g","x":0.039,"y":0.145},{"p":"V9","k":"g","x":0.055,"y":0.2},
      {"p":"V9","k":"g","x":0.07,"y":0.225},{"p":"V9","k":"g","x":0.07,"y":0.3},{"p":"V9","k":"g","x":0.07,"y":0.375},{"p":"V9","k":"g","x":0.07,"y":0.405},
      {"p":"V9","k":"g","x":0.09,"y":0.235},{"p":"V9","k":"g","x":0.09,"y":0.31},{"p":"V9","k":"g","x":0.09,"y":0.385},{"p":"V9","k":"g","x":0.09,"y":0.46},{"p":"V9","k":"g","x":0.09,"y":0.485},
      {"p":"V9","k":"g","x":0.11,"y":0.255},{"p":"V9","k":"g","x":0.11,"y":0.33},{"p":"V9","k":"g","x":0.11,"y":0.405},{"p":"V9","k":"g","x":0.11,"y":0.48},{"p":"V9","k":"g","x":0.11,"y":0.525},
      {"p":"V9","k":"g","x":0.13,"y":0.275},{"p":"V9","k":"g","x":0.13,"y":0.35},{"p":"V9","k":"g","x":0.13,"y":0.425},{"p":"V9","k":"g","x":0.13,"y":0.5},{"p":"V9","k":"g","x":0.13,"y":0.535},
      {"p":"V9","k":"g","x":0.15,"y":0.285},{"p":"V9","k":"g","x":0.15,"y":0.36},{"p":"V9","k":"g","x":0.15,"y":0.435},{"p":"V9","k":"g","x":0.15,"y":0.51},{"p":"V9","k":"g","x":0.15,"y":0.535},
      {"p":"V9","k":"g","x":0.17,"y":0.305},{"p":"V9","k":"g","x":0.17,"y":0.38},{"p":"V9","k":"g","x":0.17,"y":0.455},{"p":"V9","k":"g","x":0.17,"y":0.53},{"p":"V9","k":"g","x":0.17,"y":0.555},
      {"p":"V9","k":"g","x":0.19,"y":0.325},{"p":"V9","k":"g","x":0.19,"y":0.4},{"p":"V9","k":"g","x":0.19,"y":0.475},{"p":"V9","k":"g","x":0.19,"y":0.55},{"p":"V9","k":"g","x":0.19,"y":0.575},
      {"p":"V9","k":"g","x":0.21,"y":0.355},{"p":"V9","k":"g","x":0.21,"y":0.43},{"p":"V9","k":"g","x":0.21,"y":0.505},{"p":"V9","k":"g","x":0.21,"y":0.58},{"p":"V9","k":"g","x":0.21,"y":0.635},
      {"p":"V9","k":"g","x":0.23,"y":0.385},{"p":"V9","k":"g","x":0.23,"y":0.46},{"p":"V9","k":"g","x":0.23,"y":0.535},{"p":"V9","k":"g","x":0.23,"y":0.61},{"p":"V9","k":"g","x":0.23,"y":0.655},
      {"p":"V9","k":"g","x":0.25,"y":0.415},{"p":"V9","k":"g","x":0.25,"y":0.49},{"p":"V9","k":"g","x":0.25,"y":0.565},{"p":"V9","k":"g","x":0.25,"y":0.64},{"p":"V9","k":"g","x":0.25,"y":0.675},
      {"p":"V9","k":"g","x":0.27,"y":0.455},{"p":"V9","k":"g","x":0.27,"y":0.53},{"p":"V9","k":"g","x":0.27,"y":0.605},{"p":"V9","k":"g","x":0.27,"y":0.68},{"p":"V9","k":"g","x":0.27,"y":0.705},
      {"p":"V9","k":"g","x":0.29,"y":0.485},{"p":"V9","k":"g","x":0.29,"y":0.56},{"p":"V9","k":"g","x":0.29,"y":0.635},{"p":"V9","k":"g","x":0.29,"y":0.705},
      {"p":"V9","k":"g","x":0.31,"y":0.515},{"p":"V9","k":"g","x":0.31,"y":0.59},{"p":"V9","k":"g","x":0.31,"y":0.665},{"p":"V9","k":"g","x":0.31,"y":0.695},
      {"p":"V9","k":"g","x":0.33,"y":0.545},{"p":"V9","k":"g","x":0.33,"y":0.62},{"p":"V9","k":"g","x":0.33,"y":0.685},
      {"p":"V9","k":"g","x":0.35,"y":0.575},{"p":"V9","k":"g","x":0.35,"y":0.655},
      {"p":"V9","k":"g","x":0.38,"y":0.71}
    ]
  },
  "facet": {
    "field": "p",
    "type": "nominal",
    "header": {
      "labels": false,
      "labelFontSize": 1,
      "labelPadding": 0,
      "labelColor": "white",
      "title": "log(P-distances between pairs (n=1953) in entire 18S region)",
      "titleOrient": "bottom",
      "titleFont": "Liberation Sans",
      "titleFontSize": 14.7,
      "titleFontWeight": "normal",
      "titleColor": "#000",
      "titlePadding": 1
    }
  },
  "columns": 3,
  "spacing": {"row": 22, "column": 46},
  "spec": {
    "width": 192,
    "height": 152,
    "layer": [
      {"transform": [{"filter": "datum.k == 't' || datum.k == 'n'"}], "mark": {"type": "rule", "color": "#f1f1f1", "strokeWidth": 0.7},
        "encoding": {"x": {"datum": 0.05, "type": "quantitative", "scale": {"domain": [0, 0.4], "nice": false, "zero": false}, "axis": {"values": [0, 0.1, 0.2, 0.3, 0.4], "format": ".1f", "labelOverlap": false, "labelFlush": false, "labelPadding": 12}}}},
      {"transform": [{"filter": "datum.k == 't' || datum.k == 'n'"}], "mark": {"type": "rule", "color": "#f1f1f1", "strokeWidth": 0.7},
        "encoding": {"x": {"datum": 0.15, "type": "quantitative", "scale": {"domain": [0, 0.4], "nice": false, "zero": false}, "axis": {"values": [0, 0.1, 0.2, 0.3, 0.4], "format": ".1f", "labelOverlap": false, "labelFlush": false, "labelPadding": 12}}}},
      {"transform": [{"filter": "datum.k == 't' || datum.k == 'n'"}], "mark": {"type": "rule", "color": "#f1f1f1", "strokeWidth": 0.7},
        "encoding": {"x": {"datum": 0.25, "type": "quantitative", "scale": {"domain": [0, 0.4], "nice": false, "zero": false}, "axis": {"values": [0, 0.1, 0.2, 0.3, 0.4], "format": ".1f", "labelOverlap": false, "labelFlush": false, "labelPadding": 12}}}},
      {"transform": [{"filter": "datum.k == 't' || datum.k == 'n'"}], "mark": {"type": "rule", "color": "#f1f1f1", "strokeWidth": 0.7},
        "encoding": {"x": {"datum": 0.35, "type": "quantitative", "scale": {"domain": [0, 0.4], "nice": false, "zero": false}, "axis": {"values": [0, 0.1, 0.2, 0.3, 0.4], "format": ".1f", "labelOverlap": false, "labelFlush": false, "labelPadding": 12}}}},
      {"transform": [{"filter": "datum.k == 't' || datum.k == 'n'"}], "mark": {"type": "rule", "color": "#f1f1f1", "strokeWidth": 0.7},
        "encoding": {"y": {"datum": 0.125, "type": "quantitative", "scale": {"domain": [-0.09, 1.045], "nice": false, "zero": false}, "axis": {"values": [0, 0.25, 0.5, 0.75, 1], "format": ".2f", "labelOverlap": false, "labelFlush": false, "labelPadding": 8}}}},
      {"transform": [{"filter": "datum.k == 't' || datum.k == 'n'"}], "mark": {"type": "rule", "color": "#f1f1f1", "strokeWidth": 0.7},
        "encoding": {"y": {"datum": 0.375, "type": "quantitative", "scale": {"domain": [-0.09, 1.045], "nice": false, "zero": false}, "axis": {"values": [0, 0.25, 0.5, 0.75, 1], "format": ".2f", "labelOverlap": false, "labelFlush": false, "labelPadding": 8}}}},
      {"transform": [{"filter": "datum.k == 't' || datum.k == 'n'"}], "mark": {"type": "rule", "color": "#f1f1f1", "strokeWidth": 0.7},
        "encoding": {"y": {"datum": 0.625, "type": "quantitative", "scale": {"domain": [-0.09, 1.045], "nice": false, "zero": false}, "axis": {"values": [0, 0.25, 0.5, 0.75, 1], "format": ".2f", "labelOverlap": false, "labelFlush": false, "labelPadding": 8}}}},
      {"transform": [{"filter": "datum.k == 't' || datum.k == 'n'"}], "mark": {"type": "rule", "color": "#f1f1f1", "strokeWidth": 0.7},
        "encoding": {"y": {"datum": 0.875, "type": "quantitative", "scale": {"domain": [-0.09, 1.045], "nice": false, "zero": false}, "axis": {"values": [0, 0.25, 0.5, 0.75, 1], "format": ".2f", "labelOverlap": false, "labelFlush": false, "labelPadding": 8}}}},
      {
        "transform": [{"filter": "datum.k == 'b'"}],
        "mark": {"type": "area", "clip": true, "color": "#7f7f7f", "opacity": 0.25},
        "encoding": {
          "x": {"field": "x", "type": "quantitative", "title": null,
            "scale": {"domain": [0, 0.4], "nice": false, "zero": false},
            "axis": {"values": [0, 0.1, 0.2, 0.3, 0.4], "format": ".1f", "labelOverlap": false, "labelFlush": false, "labelPadding": 12}},
          "y": {"field": "lo", "type": "quantitative", "title": null,
            "scale": {"domain": [-0.09, 1.045], "nice": false, "zero": false},
            "axis": {"values": [0, 0.25, 0.5, 0.75, 1], "format": ".2f", "labelOverlap": false, "labelFlush": false, "labelPadding": 8}},
          "y2": {"field": "hi"},
          "detail": {"field": "w"}
        }
      },
      {
        "transform": [{"filter": "datum.k == 'e'"}],
        "mark": {"type": "circle", "clip": true, "size": 105, "color": "#000", "opacity": 1},
        "encoding": {
          "x": {"field": "x", "type": "quantitative", "title": null,
            "scale": {"domain": [0, 0.4], "nice": false, "zero": false},
            "axis": {"values": [0, 0.1, 0.2, 0.3, 0.4], "format": ".1f", "labelOverlap": false, "labelFlush": false, "labelPadding": 12}},
          "y": {"field": "y", "type": "quantitative", "title": null,
            "scale": {"domain": [-0.09, 1.045], "nice": false, "zero": false},
            "axis": {"values": [0, 0.25, 0.5, 0.75, 1], "format": ".2f", "labelOverlap": false, "labelFlush": false, "labelPadding": 8}}
        }
      },
      {
        "transform": [{"filter": "datum.k == 'g'"}],
        "mark": {"type": "circle", "clip": true, "size": 165, "color": "#5e5e5e", "opacity": 1},
        "encoding": {
          "x": {"field": "x", "type": "quantitative", "title": null,
            "scale": {"domain": [0, 0.4], "nice": false, "zero": false},
            "axis": {"values": [0, 0.1, 0.2, 0.3, 0.4], "format": ".1f", "labelOverlap": false, "labelFlush": false, "labelPadding": 12}},
          "y": {"field": "y", "type": "quantitative", "title": null,
            "scale": {"domain": [-0.09, 1.045], "nice": false, "zero": false},
            "axis": {"values": [0, 0.25, 0.5, 0.75, 1], "format": ".2f", "labelOverlap": false, "labelFlush": false, "labelPadding": 8}}
        }
      },
      {
        "transform": [{"filter": "datum.k == 'l'"}],
        "mark": {"type": "line", "clip": true, "color": "#3366FF", "strokeWidth": 1.6},
        "encoding": {
          "x": {"field": "x", "type": "quantitative", "title": null,
            "scale": {"domain": [0, 0.4], "nice": false, "zero": false},
            "axis": {"values": [0, 0.1, 0.2, 0.3, 0.4], "format": ".1f", "labelOverlap": false, "labelFlush": false, "labelPadding": 12}},
          "y": {"field": "y", "type": "quantitative", "title": null,
            "scale": {"domain": [-0.09, 1.045], "nice": false, "zero": false},
            "axis": {"values": [0, 0.25, 0.5, 0.75, 1], "format": ".2f", "labelOverlap": false, "labelFlush": false, "labelPadding": 8}}
        }
      },
      {
        "transform": [{"filter": "datum.k == 't'"}],
        "mark": {"type": "rule", "color": "#8a8a8a", "strokeWidth": 1},
        "encoding": {"x": {"datum": 0.4, "type": "quantitative", "scale": {"domain": [0, 0.4], "nice": false, "zero": false}, "axis": {"values": [0, 0.1, 0.2, 0.3, 0.4], "format": ".1f", "labelOverlap": false, "labelFlush": false, "labelPadding": 12}}}
      },
      {
        "transform": [{"filter": "datum.k == 't'"}],
        "mark": {"type": "rule", "color": "#8a8a8a", "strokeWidth": 1},
        "encoding": {"y": {"datum": 1.045, "type": "quantitative", "scale": {"domain": [-0.09, 1.045], "nice": false, "zero": false}, "axis": {"values": [0, 0.25, 0.5, 0.75, 1], "format": ".2f", "labelOverlap": false, "labelFlush": false, "labelPadding": 8}}}
      },
      {
        "transform": [{"filter": "datum.k == 't'"}],
        "mark": {"type": "rule", "color": "#000", "strokeWidth": 2.6},
        "encoding": {"x": {"datum": 0, "type": "quantitative", "scale": {"domain": [0, 0.4], "nice": false, "zero": false}, "axis": {"values": [0, 0.1, 0.2, 0.3, 0.4], "format": ".1f", "labelOverlap": false, "labelFlush": false, "labelPadding": 12}}}
      },
      {
        "transform": [{"filter": "datum.k == 't'"}],
        "mark": {"type": "rule", "color": "#000", "strokeWidth": 2.6},
        "encoding": {"y": {"datum": -0.09, "type": "quantitative", "scale": {"domain": [-0.09, 1.045], "nice": false, "zero": false}, "axis": {"values": [0, 0.25, 0.5, 0.75, 1], "format": ".2f", "labelOverlap": false, "labelFlush": false, "labelPadding": 8}}}
      },
      {
        "transform": [{"filter": "datum.k == 't'"}],
        "mark": {"type": "text", "font": "Liberation Sans", "fontSize": 21, "fontWeight": "bold", "color": "#000", "align": "center", "baseline": "middle"},
        "encoding": {
          "x": {"datum": 0.2, "type": "quantitative", "scale": {"domain": [0, 0.4], "nice": false, "zero": false}, "axis": {"values": [0, 0.1, 0.2, 0.3, 0.4], "format": ".1f", "labelOverlap": false, "labelFlush": false, "labelPadding": 12}},
          "y": {"datum": 0.87, "type": "quantitative", "scale": {"domain": [-0.09, 1.045], "nice": false, "zero": false}, "axis": {"values": [0, 0.25, 0.5, 0.75, 1], "format": ".2f", "labelOverlap": false, "labelFlush": false, "labelPadding": 8}},
          "text": {"field": "p"}
        }
      },
      {
        "transform": [{"filter": "datum.k == 't'"}],
        "mark": {"type": "text", "font": "Liberation Sans", "fontSize": 13.5, "fontStyle": "italic", "color": "#5a5a5a", "align": "left", "baseline": "middle"},
        "encoding": {
          "x": {"datum": 0.016, "type": "quantitative", "scale": {"domain": [0, 0.4], "nice": false, "zero": false}, "axis": {"values": [0, 0.1, 0.2, 0.3, 0.4], "format": ".1f", "labelOverlap": false, "labelFlush": false, "labelPadding": 12}},
          "y": {"datum": 0.83, "type": "quantitative", "scale": {"domain": [-0.09, 1.045], "nice": false, "zero": false}, "axis": {"values": [0, 0.25, 0.5, 0.75, 1], "format": ".2f", "labelOverlap": false, "labelFlush": false, "labelPadding": 8}},
          "text": {"field": "r2"}
        }
      },
      {
        "transform": [{"filter": "datum.k == 't'"}],
        "mark": {"type": "text", "font": "Liberation Sans", "fontSize": 13.5, "fontStyle": "italic", "color": "#5a5a5a", "align": "left", "baseline": "middle"},
        "encoding": {
          "x": {"datum": 0.016, "type": "quantitative", "scale": {"domain": [0, 0.4], "nice": false, "zero": false}, "axis": {"values": [0, 0.1, 0.2, 0.3, 0.4], "format": ".1f", "labelOverlap": false, "labelFlush": false, "labelPadding": 12}},
          "y": {"datum": 0.69, "type": "quantitative", "scale": {"domain": [-0.09, 1.045], "nice": false, "zero": false}, "axis": {"values": [0, 0.25, 0.5, 0.75, 1], "format": ".2f", "labelOverlap": false, "labelFlush": false, "labelPadding": 8}},
          "text": {"field": "bp"}
        }
      }
    ]
  },
  "config": {
    "view": {"stroke": null},
    "axis": {
      "domain": false,
      "labelFont": "Liberation Sans",
      "labelFontSize": 12,
      "labelFontWeight": "bold",
      "labelColor": "#1a1a1a",
      "labelFlush": false,
      "labelOverlap": false,
      "tickColor": "#333333",
      "tickSize": 4,
      "gridColor": "#e3e3e3",
      "gridWidth": 0.8
    }
  }
}
